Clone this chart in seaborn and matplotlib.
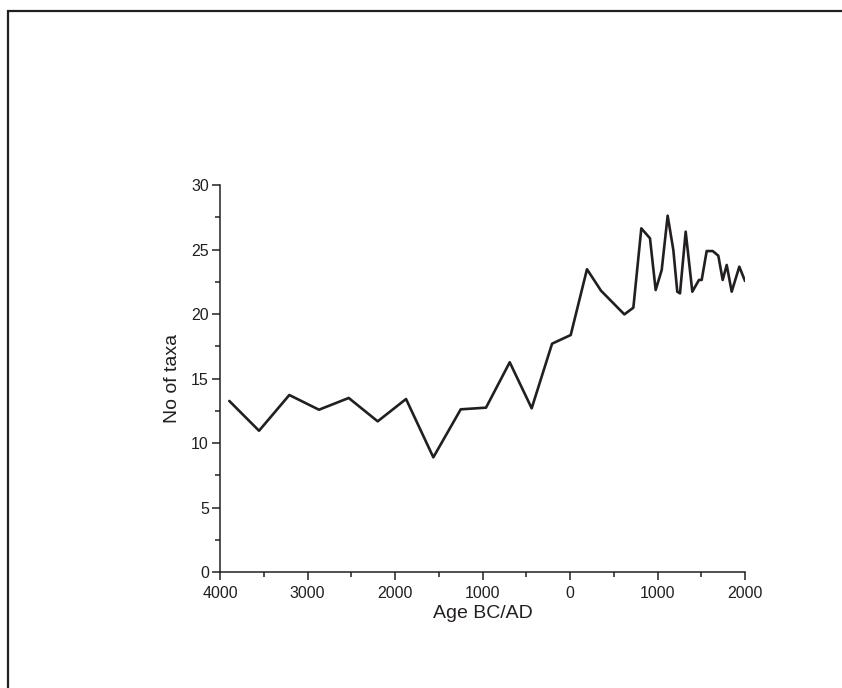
import matplotlib
matplotlib.use("Agg")
import matplotlib.pyplot as plt
from matplotlib.patches import Rectangle
from matplotlib.ticker import MultipleLocator, FixedLocator
import seaborn as sns
import pandas as pd

# Age in calendar years (negative = BC, positive = AD)
age = [-3894, -3554, -3208, -2869, -2529, -2198, -1874, -1562, -1249, -960,
       -689, -438, -205, 8, 194, 354, 621, 724, 815, 914,
       979, 1048, 1116, 1181, 1226, 1257, 1322, 1398, 1474, 1505,
       1562, 1631, 1695, 1745, 1791, 1848, 1935, 2000]
# Number of taxa per sample
taxa = [13.26, 10.95, 13.72, 12.58, 13.49, 11.68, 13.41, 8.89, 12.61, 12.74,
        16.26, 12.69, 17.7, 18.37, 23.47, 21.81, 19.97, 20.49, 26.64, 25.87,
        21.86, 23.41, 27.62, 24.96, 21.73, 21.6, 26.38, 21.73, 22.64, 22.64,
        24.88, 24.88, 24.52, 22.64, 23.8, 21.73, 23.67, 22.56]

x_ticks = [-4000, -3000, -2000, -1000, 0, 1000, 2000]
x_tick_labels = ["4000", "3000", "2000", "1000", "0", "1000", "2000"]
y_ticks = [0, 5, 10, 15, 20, 25, 30]

df = pd.DataFrame({"age": age, "taxa": taxa})

ink = "#231f20"
sns.set_theme(style="ticks")
plt.rcParams["font.family"] = ["Liberation Sans", "DejaVu Sans"]

fig = plt.figure(figsize=(8.42, 6.88), dpi=100)
ax = fig.add_axes([0.2613, 0.1686, 0.6235, 0.5625])

sns.lineplot(data=df, x="age", y="taxa", ax=ax, color=ink, linewidth=1.9,
             estimator=None, sort=False)

ax.set_xlim(-4000, 2000)
ax.set_ylim(0, 30)
ax.xaxis.set_major_locator(FixedLocator(x_ticks))
ax.set_xticklabels(x_tick_labels)
ax.xaxis.set_minor_locator(MultipleLocator(500))
ax.yaxis.set_major_locator(FixedLocator(y_ticks))
ax.yaxis.set_minor_locator(MultipleLocator(2.5))

for side in ("top", "right"):
    ax.spines[side].set_visible(False)
for side in ("left", "bottom"):
    ax.spines[side].set_color(ink)
    ax.spines[side].set_linewidth(1.1)

ax.tick_params(which="major", direction="out", length=6, width=1.1,
               color=ink, labelcolor=ink, labelsize=11.5, pad=2)
ax.tick_params(axis="x", which="major", pad=4)
ax.tick_params(which="minor", direction="out", length=3.5, width=1.1,
               color=ink)

ax.set_xlabel("Age BC/AD", fontsize=14, color=ink, labelpad=3)
ax.set_ylabel("No of taxa", fontsize=14, color=ink, labelpad=7)

# Frame around the figure (right and bottom edges run off the canvas)
top = 1 - 10.5 / 688
frame = Rectangle((7.5 / 842, -0.2), 1.2, top + 0.2,
                  transform=fig.transFigure, fill=False, edgecolor=ink,
                  linewidth=1.6, clip_on=False)
fig.patches.append(frame)

fig.savefig("out.png", dpi=100, facecolor="white")
